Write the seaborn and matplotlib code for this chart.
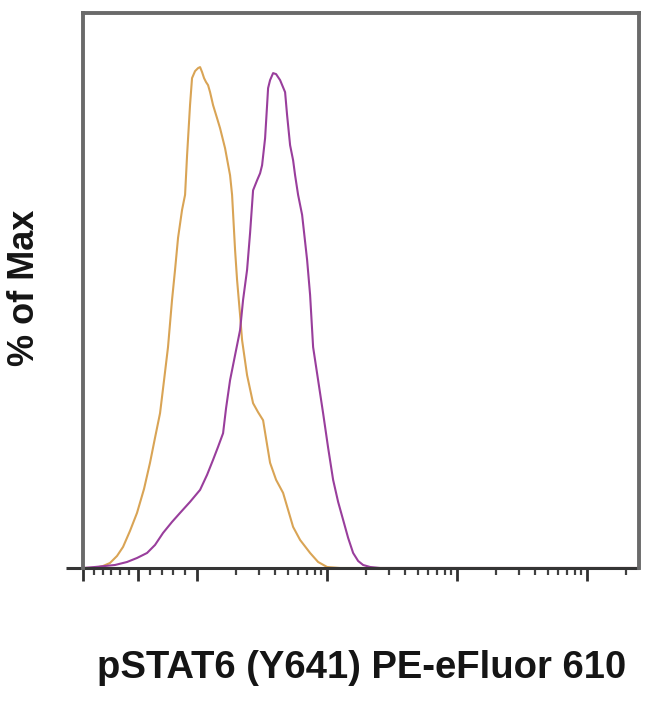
import numpy as np
import pandas as pd
import matplotlib
matplotlib.use("Agg")
import matplotlib.pyplot as plt
import seaborn as sns
from matplotlib.ticker import FixedLocator, NullFormatter, NullLocator
from matplotlib.lines import Line2D

# ---------------- data ----------------
series_names = ["Unstimulated", "Stimulated"]

orange_x = [-93.2, -72.9, -59.3, -47.5, -35.6, -25.4, -13.6, -1.7, 10.2, 20.3,
            28.8, 37.3, 44.1, 50.8, 57.6, 62.7, 67.8, 74.6, 79.7, 83.1,
            88.1, 91.5, 96.6, 101.8, 105.5, 109.3, 113.2, 117.3, 121.5, 125.9,
            132.8, 142.5, 150.3, 164.2, 179.4, 185.9, 196.0, 203.1, 214.2, 221.9,
            242.4, 269.6, 294.6, 321.9, 345.5, 364.3, 405.2, 458.6, 501.2, 547.7,
            619.8, 739.9, 852.7, 1000, 1259, 250000]
orange_pct = [0.0, 0.0, 0.4, 1.0, 2.4, 4.2, 7.4, 11.0, 15.8, 21.0,
              26.0, 30.9, 37.5, 44.1, 53.5, 59.5, 65.9, 71.5, 74.5, 82.4,
              92.4, 97.8, 99.2, 99.8, 100.0, 99.0, 97.8, 97.0, 96.4, 95.0,
              92.4, 89.8, 87.8, 83.8, 78.4, 74.5, 63.5, 57.5, 50.5, 45.5,
              38.5, 32.9, 31.1, 29.5, 24.6, 21.0, 17.6, 15.0, 11.6, 8.2,
              5.6, 3.0, 1.2, 0.2, 0.0, 0.0]

purple_x = [-93.2, -72.9, -55.9, -39.0, -18.6, -1.7, 15.3, 28.8, 42.4, 57.6,
            71.2, 88.1, 105.5, 119.4, 132.8, 145.1, 158.5, 167.1, 179.4, 196.0,
            214.2, 225.8, 242.4, 255.7, 269.6, 289.4, 305.2, 316.2, 333.5, 345.5,
            351.7, 364.3, 384.3, 405.2, 435.0, 475.2, 492.4, 519.3, 547.7, 567.3,
            598.2, 642.3, 701.7, 739.9, 780.4, 852.7, 931.5, 1018, 1112, 1215,
            1328, 1451, 1585, 1732, 1892, 2142, 2557, 250000]
purple_pct = [0.0, 0.2, 0.4, 0.6, 1.2, 2.0, 3.0, 4.6, 7.0, 9.2,
              11.0, 13.2, 15.6, 18.6, 21.6, 24.2, 26.9, 31.9, 37.5, 42.5,
              47.5, 53.5, 59.5, 66.9, 75.4, 77.4, 78.8, 80.4, 85.8, 92.4,
              95.8, 97.4, 98.8, 98.6, 97.4, 95.0, 90.4, 84.4, 81.4, 78.4,
              74.5, 70.5, 61.5, 54.5, 44.1, 37.5, 30.9, 24.0, 17.6, 13.2,
              9.6, 6.0, 3.0, 1.4, 0.6, 0.2, 0.0, 0.0]

x_label = "pSTAT6 (Y641) PE-eFluor 610"
y_label = "% of Max"

major_ticks = [-93.2, 0, 100, 1e3, 1e4, 1e5]
minor_ticks = [-75, -60, -45, -30, -15, 20, 40, 60, 80,
               200, 300, 400, 500, 600, 700, 800, 900,
               2000, 3000, 4000, 5000, 6000, 7000, 8000, 9000,
               20000, 30000, 40000, 50000, 60000, 70000, 80000, 90000,
               200000]

colors = ["#d9a455", "#993e9c"]

# ---------------- build table ----------------
df = pd.concat([
    pd.DataFrame({"x": orange_x, "pct": orange_pct, "series": series_names[0]}),
    pd.DataFrame({"x": purple_x, "pct": purple_pct, "series": series_names[1]}),
], ignore_index=True)

sns.set_style("white")
plt.rcParams["font.family"] = ["Liberation Sans", "DejaVu Sans"]

W, H = 650, 701
fig = plt.figure(figsize=(W / 100, H / 100), dpi=100)
ax = fig.add_axes([83 / W, 1 - 568 / H, 556 / W, 555 / H])

sns.lineplot(data=df, x="x", y="pct", hue="series", palette=colors,
             sort=False, estimator=None, linewidth=1.5, legend=False, ax=ax)

ax.set_xscale("symlog", linthresh=100, linscale=0.4085)
ax.set_xlim(-93.2, 2.5e5)
ax.set_ylim(0, 110.8)

ax.xaxis.set_major_locator(FixedLocator(major_ticks))
ax.xaxis.set_minor_locator(FixedLocator(minor_ticks))
ax.xaxis.set_major_formatter(NullFormatter())
ax.xaxis.set_minor_formatter(NullFormatter())
ax.yaxis.set_major_locator(NullLocator())
ax.yaxis.set_minor_locator(NullLocator())
ax.tick_params(axis="x", which="major", direction="out", length=9, width=2.0,
               color="#303030", bottom=True)
ax.tick_params(axis="x", which="minor", direction="out", length=5, width=1.6,
               color="#404040", bottom=True)

for side in ["left", "top", "right"]:
    ax.spines[side].set_color("#6a6a6a")
    ax.spines[side].set_linewidth(2.8)
ax.spines["bottom"].set_visible(False)
ax.add_line(Line2D([-0.031, 1.0], [0, 0], transform=ax.transAxes, clip_on=False,
                   color="#353535", linewidth=2.2, solid_capstyle="butt"))

ax.set_xlabel(x_label, fontsize=27.5, fontweight="bold", color="#151515")
ax.set_ylabel(y_label, fontsize=26, fontweight="bold", color="#151515")
ax.xaxis.label.set_va("center")
ax.yaxis.label.set_va("center")
ax.xaxis.set_label_coords((362 - 83) / 556, (568 - 668) / 555)
ax.yaxis.set_label_coords((25 - 83) / 556, (568 - 288) / 555)

fig.savefig("out.png", dpi=100, facecolor="white")
